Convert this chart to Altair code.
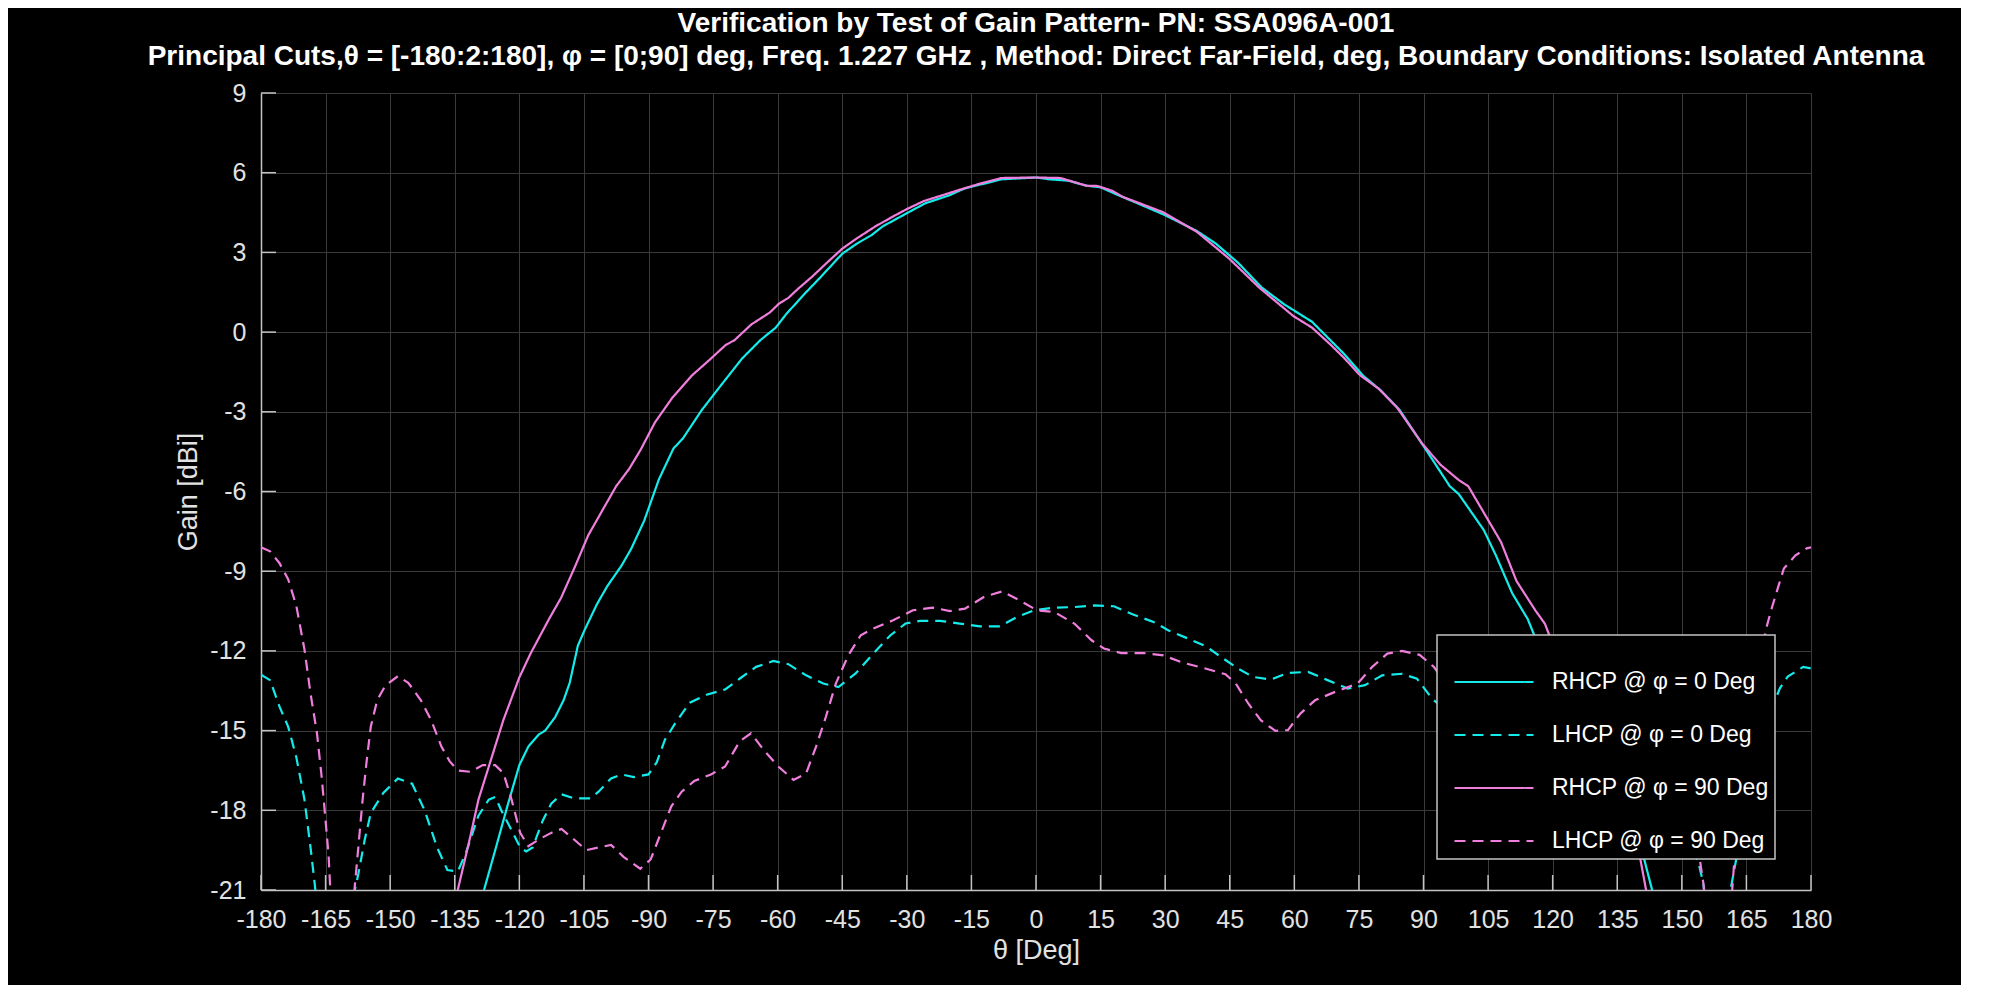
import altair as alt
import pandas as pd

# ---------------- data ----------------
series_names = ["RHCP @ φ = 0 Deg", "LHCP @ φ = 0 Deg", "RHCP @ φ = 90 Deg", "LHCP @ φ = 90 Deg"]

rhcp0_theta = [-180, -170, -160, -150, -140, -132, -128.2, -125.6, -122.7, -120, -117.9, -115.5, -114, -111.7,
               -109.7, -108.3, -106.4, -104.8, -102, -99.6, -96.3, -94, -91, -87.6, -84.2, -82, -77.7, -73.4,
               -68.3, -64, -60.5, -58, -53.7, -50.2, -45, -41.6, -38.2, -35.6, -30.4, -25.7, -20.1, -16.7, -8.1,
               0, 3.2, 7.5, 11.7, 15, 19.3, 23, 30, 37.4, 41.7, 47, 52.4, 57.7, 64.1, 71.6, 75.9, 80.1, 84.4,
               90.3, 96.1, 98.2, 102.5, 104, 106.8, 110.6, 114.2, 116.7, 120, 125, 130, 135, 141.3, 143.1, 146,
               150, 160, 170, 180]
rhcp0_gain = [-30, -32, -30, -28, -26, -23, -21, -19.5, -17.8, -16.3, -15.6, -15.15, -15.0, -14.5,
              -13.85, -13.2, -11.8, -11.2, -10.25, -9.57, -8.8, -8.15, -7.1, -5.55, -4.38, -4.0, -2.95, -2.05,
              -1.0, -0.3, 0.16, 0.68, 1.45, 2.04, 2.95, 3.33, 3.65, 3.98, 4.44, 4.85, 5.15, 5.4, 5.75,
              5.82, 5.75, 5.7, 5.51, 5.45, 5.14, 4.89, 4.4, 3.8, 3.34, 2.6, 1.68, 1.04, 0.39, -0.83, -1.63, -2.2, -2.92,
              -4.36, -5.8, -6.1, -7.1, -7.45, -8.4, -9.83, -10.8, -11.8, -12.9, -14.6, -16.3, -17.8, -19.87, -21, -23,
              -26, -30, -32, -30]

rhcp90_theta = [-180, -170, -160, -150, -140, -134.3, -131.4, -129.5, -126.6, -123.7, -120, -117.4, -113.1, -110.3,
                -107, -104, -100.5, -97.5, -94.5, -91.9, -88.5, -84.6, -79.9, -76, -72.1, -70, -66.1, -61.8, -59.7,
                -57.5, -55.4, -51.9, -48.5, -45, -41.6, -37.3, -33, -30, -26.1, -21.8, -17.5, -13.2, -8.1, 0, 5.7,
                11.7, 14.3, 17.7, 20.3, 24.4, 29.4, 37.4, 44.9, 51.8, 56.1, 59.8, 64.1, 68.4, 71.6, 75.3, 79.6,
                83.9, 89.7, 94, 98.2, 100.4, 104.2, 108, 111.6, 116, 118.2, 120.2, 125, 130, 135, 140.4, 141.7,
                144, 150, 160, 170, 180]
rhcp90_gain = [-30, -32, -30, -28, -24, -21, -19, -17.6, -16.1, -14.6, -13.0, -12.1, -10.8, -10.0,
               -8.8, -7.65, -6.65, -5.8, -5.15, -4.45, -3.4, -2.5, -1.63, -1.07, -0.49, -0.3, 0.29, 0.74, 1.07,
               1.29, 1.61, 2.1, 2.62, 3.14, 3.53, 3.98, 4.37, 4.63, 4.93, 5.15, 5.37, 5.58, 5.8, 5.82, 5.8,
               5.51, 5.5, 5.32, 5.08, 4.83, 4.52, 3.77, 2.76, 1.68, 1.1, 0.6, 0.17, -0.47, -0.98, -1.63, -2.13,
               -2.85, -4.2, -5.0, -5.57, -5.8, -6.85, -7.9, -9.37, -10.48, -10.98, -11.82, -13.4, -15.3, -17.3, -19.87, -21,
               -23, -26, -30, -32, -30]

lhcp0_theta = [-180, -177.9, -175.7, -173.7, -171.8, -169.9, -168.5, -167.5, -165, -163, -160, -158.2, -157.4,
               -155.9, -154.5, -151.6, -148.2, -144.9, -142, -139.1, -136.7, -134.3, -132.4, -129.5, -127.1,
               -125.6, -124.2, -121.8, -119.8, -118.4, -116.9, -114.6, -112.6, -110.2, -107.3, -103.5, -101.6,
               -98.7, -96.3, -93.4, -90, -88.1, -86.2, -83.7, -80.4, -76.5, -72.2, -68.6, -65, -61, -57.5, -53.4,
               -49.4, -45.9, -41.9, -37.8, -33.8, -30.3, -26.9, -22.3, -17.7, -13, -8.4, -4.4, -0.35, 4.3, 8.9,
               13.5, 18.1, 22.7, 27.3, 30.8, 35.4, 39.5, 43.5, 47, 50.4, 54.5, 58.5, 63.2, 67.7, 72.4, 76.4, 80.4,
               85, 88.5, 92, 95, 100, 105, 110, 115, 120, 125, 130, 135, 140, 145, 150, 153.7, 155, 157, 159,
               161.3, 162.6, 165, 168, 170.5, 172.8, 174.6, 178.2, 180]
lhcp0_gain = [-12.9, -13.1, -14.1, -14.85, -16.0, -17.6, -19.4, -20.8, -25, -27, -24, -21, -20.4,
              -19.1, -18.1, -17.35, -16.8, -17.0, -18.0, -19.4, -20.25, -20.3, -19.6, -18.2, -17.6,
              -17.5, -18.0, -18.75, -19.4, -19.55, -19.4, -18.4, -17.75, -17.4, -17.55, -17.55, -17.3,
              -16.8, -16.65, -16.75, -16.65, -16.2, -15.35, -14.7, -13.95, -13.65, -13.45, -13.02, -12.6, -12.38, -12.5, -12.92,
              -13.23, -13.36, -12.85, -12.1, -11.41, -10.97, -10.87, -10.87, -10.97, -11.08, -11.08, -10.72, -10.47, -10.37, -10.35,
              -10.29, -10.32, -10.64, -10.91, -11.23, -11.54, -11.83, -12.29, -12.67, -12.98, -13.08, -12.83, -12.79, -13.1, -13.42, -13.29, -12.92,
              -12.86, -13.05, -13.8, -14.2, -14.6, -15.1, -15.4, -15.6, -16.1, -16.8, -17.3, -17.2, -17.6, -18.4, -19.2, -19.87, -20.75, -23.5, -24.5,
              -21, -19.87, -17.6, -15.6, -14.3, -13.4, -12.97, -12.6, -12.66]

lhcp90_theta = [-180, -177.9, -175.7, -173.7, -171.8, -169.9, -168.5, -167, -166, -165.1, -164.3, -163.9, -162,
                -160, -158.3, -157.4, -156.4, -155.5, -154.5, -153, -151.1, -148.2, -145.8, -142.9, -140.5, -138.1,
                -136.2, -134.3, -131.4, -128.5, -125.6, -123.7, -121.8, -119.8, -117.9, -115.5, -112.6, -110.2,
                -107.3, -104.4, -101.6, -98.7, -95.8, -91.9, -89.5, -87.1, -84.7, -82.3, -79.4, -75.5, -72.2,
                -68.8, -66.2, -63.2, -59.8, -56.3, -53.4, -51.1, -48.8, -46.5, -43.6, -40.7, -37.8, -33.2, -28.6,
                -24, -20, -16.5, -11.9, -7.8, -3.8, 0.2, 4.3, 8.9, 12.9, 15.8, 19.8, 25, 29.6, 34.2, 38.9, 44,
                46.4, 49.3, 52.2, 55.6, 58.5, 61.4, 64.8, 69.5, 74.7, 78.1, 81.6, 85, 89.1, 92.4, 95, 100, 105,
                110, 115, 120, 125, 130, 135, 140, 145, 150, 154.2, 155, 157, 160, 161.7, 162.2, 164, 166, 168.8,
                169.7, 171, 172.4, 173.7, 176.4, 179, 180]
lhcp90_gain = [-8.1, -8.25, -8.7, -9.3, -10.3, -11.95, -13.6, -15.1, -16.6, -18.2, -19.7, -21, -25,
               -25, -21, -19.4, -17.6, -16.2, -14.85, -13.85, -13.3, -12.95, -13.2, -13.85, -14.6, -15.6,
               -16.15, -16.5, -16.55, -16.3, -16.3, -16.6, -17.6, -18.85, -19.35, -19.1, -18.85, -18.7,
               -19.1, -19.5, -19.4, -19.3, -19.75, -20.2, -19.85, -18.85, -17.85, -17.3, -16.9, -16.65, -16.35,
               -15.4, -15.1, -15.74, -16.36, -16.86, -16.61, -15.61, -14.48, -13.23, -12.17, -11.41, -11.16, -10.85, -10.47,
               -10.37, -10.5, -10.41, -9.95, -9.76, -10.1, -10.47, -10.54, -10.97, -11.6, -11.91, -12.08, -12.08, -12.17, -12.45, -12.64, -12.88,
               -13.23, -13.98, -14.61, -15.01, -14.98, -14.36, -13.86, -13.54, -13.23, -12.6, -12.1, -12.0, -12.15, -12.6, -13.2, -13.8, -14.4,
               -14.9, -15.2, -15.5, -16.0, -16.4, -16.6, -17.1, -17.9, -18.8, -19.87, -20.75, -24, -24.5, -21, -19.87, -17, -14.5, -11.78,
               -11.09, -10.33, -9.58, -8.9, -8.4, -8.14, -8.1]

x_ticks = list(range(-180, 181, 15))
y_ticks = list(range(-21, 10, 3))

title_lines = [
    "Verification by Test of Gain Pattern- PN: SSA096A-001",
    "Principal Cuts,θ = [-180:2:180], φ = [0;90] deg, Freq. 1.227 GHz , Method: Direct Far-Field, deg, Boundary Conditions: Isolated Antenna",
]
x_title = "θ [Deg]"
y_title = "Gain [dBi]"

# ---------------- table ----------------
rows = []
for name, th, g in zip(series_names,
                       [rhcp0_theta, lhcp0_theta, rhcp90_theta, lhcp90_theta],
                       [rhcp0_gain, lhcp0_gain, rhcp90_gain, lhcp90_gain]):
    for i, (t, v) in enumerate(zip(th, g)):
        rows.append({"series": name, "theta": t, "gain": v, "ord": i})
df = pd.DataFrame(rows)

W, H = 1550, 797
FONT = "Liberation Sans"
CYAN = "#14EBEB"
PINK = "#F07EDC"
AXIS_GRAY = "#C4C4C4"
LABEL_GRAY = "#E2E2E2"

x_scale = alt.Scale(domain=[-180, 180], nice=False, zero=False)
y_scale = alt.Scale(domain=[-21, 9], nice=False, zero=False)

x_axis = alt.Axis(values=x_ticks, title=x_title, grid=True, gridColor="#3A3A3A", gridWidth=1,
                  domain=True, domainColor=AXIS_GRAY, domainWidth=1.5, ticks=False, tickSize=0,
                  labelExpr="'' + datum.value",
                  labelFont=FONT, labelFontSize=25, labelColor=LABEL_GRAY, labelPadding=17,
                  labelFlush=False, labelOverlap=False,
                  titleFont=FONT, titleFontSize=27, titleFontWeight="normal", titleColor=LABEL_GRAY,
                  titlePadding=5)
y_axis = alt.Axis(values=y_ticks, title=y_title, grid=True, gridColor="#3A3A3A", gridWidth=1,
                  domain=True, domainColor=AXIS_GRAY, domainWidth=1.5, ticks=False, tickSize=0,
                  labelExpr="'' + datum.value",
                  labelFont=FONT, labelFontSize=25, labelColor=LABEL_GRAY, labelPadding=15,
                  labelFlush=False, labelOverlap=False,
                  titleFont=FONT, titleFontSize=27, titleFontWeight="normal", titleColor=LABEL_GRAY,
                  titlePadding=7)

legend = alt.Legend(title=None, orient="none", legendX=1176, legendY=542,
                    fillColor="black", strokeColor=AXIS_GRAY, padding=6, symbolOffset=10,
                    symbolType="stroke", symbolSize=6241, symbolStrokeWidth=2.2,
                    labelFont=FONT, labelFontSize=23, labelColor="white", labelOffset=17,
                    rowPadding=-6, labelLimit=400)

lines = alt.Chart(df).mark_line(strokeWidth=2.2, clip=True).encode(
    x=alt.X("theta:Q", scale=x_scale, axis=x_axis),
    y=alt.Y("gain:Q", scale=y_scale, axis=y_axis),
    color=alt.Color("series:N", sort=series_names,
                    scale=alt.Scale(domain=series_names, range=[CYAN, CYAN, PINK, PINK]), legend=legend),
    strokeDash=alt.StrokeDash("series:N", sort=series_names,
                              scale=alt.Scale(domain=series_names, range=[[1, 0], [11, 7], [1, 0], [11, 7]]),
                              legend=legend),
    order="ord:Q",
)

xt_df = pd.DataFrame({"theta": x_ticks})
yt_df = pd.DataFrame({"gain": y_ticks})
x_tick_marks = alt.Chart(xt_df).mark_rule(color=AXIS_GRAY, strokeWidth=1.5).encode(
    x=alt.X("theta:Q", scale=x_scale, axis=x_axis),
    y=alt.value(H), y2=alt.value(H - 15),
)
y_tick_marks = alt.Chart(yt_df).mark_rule(color=AXIS_GRAY, strokeWidth=1.5).encode(
    y=alt.Y("gain:Q", scale=y_scale, axis=y_axis),
    x=alt.value(0), x2=alt.value(15),
)

chart = alt.layer(x_tick_marks, y_tick_marks, lines).properties(
    width=W, height=H,
    autosize=alt.AutoSizeParams(type="none"),
    padding={"left": 253, "top": 85, "right": 150, "bottom": 95},
    title=alt.TitleParams(text=title_lines, anchor="middle", font=FONT, fontSize=28,
                          fontWeight="bold", color="white", lineHeight=33, offset=10),
    background="black",
).configure_view(stroke=None).configure_legend(strokeWidth=1.5)

chart.save("out.html", embed_options={"renderer": "svg", "actions": False})
